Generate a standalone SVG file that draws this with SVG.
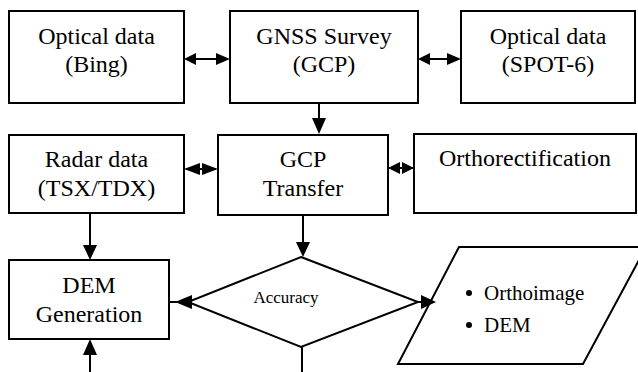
<svg xmlns="http://www.w3.org/2000/svg" width="638" height="372" viewBox="0 0 638 372">
<style>
.box{fill:#fff;stroke:#000;stroke-width:2}
.t{font-size:24px;fill:#000;text-anchor:middle}
.s{font-size:21px;fill:#000}
.a{font-size:17px;fill:#000;text-anchor:middle}
.ln{stroke:#000;stroke-width:2;fill:none}
.hd{fill:#000;stroke:none}
</style>
<rect width="638" height="372" fill="#fff"/>
<g font-family="Liberation Serif, DejaVu Serif, serif">
<g id="bing"><rect class="box" x="9" y="11" width="175" height="92"/><text class="t" x="96.5" y="44">Optical data</text><text class="t" x="96.5" y="72">(Bing)</text></g>
<g id="gnss"><rect class="box" x="230" y="11" width="188" height="92"/><text class="t" x="324" y="44">GNSS Survey</text><text class="t" x="324" y="72">(GCP)</text></g>
<g id="spot"><rect class="box" x="461" y="11" width="174" height="92"/><text class="t" x="548" y="44">Optical data</text><text class="t" x="548" y="72">(SPOT-6)</text></g>
<g id="radar"><rect class="box" x="9" y="135" width="175" height="78"/><text class="t" x="96.5" y="167">Radar data</text><text class="t" x="96.5" y="196">(TSX/TDX)</text></g>
<g id="gcp"><rect class="box" x="218" y="135" width="170" height="80"/><text class="t" x="303" y="167">GCP</text><text class="t" x="303" y="196">Transfer</text></g>
<g id="ortho"><rect class="box" x="414" y="134" width="222" height="79"/><text class="t" x="525" y="166">Orthorectification</text></g>
<g id="dem"><rect class="box" x="9" y="260" width="160" height="79"/><text class="t" x="89" y="293">DEM</text><text class="t" x="89" y="322">Generation</text></g>
<g id="accuracy"><polygon class="box" points="301,257 418,302 301,347 188,302"/><text class="a" x="286" y="303">Accuracy</text></g>
<g id="output"><polygon class="box" points="459,247 646,247 583,364 398,364"/><circle cx="469" cy="293" r="3"/><circle cx="469" cy="325" r="3"/><text class="s" x="484" y="300">Orthoimage</text><text class="s" x="484" y="332">DEM</text></g>
</g>
<g id="connectors">
<line class="ln" x1="186" y1="59" x2="228" y2="59"/><polygon class="hd" points="184,59 196,53 196,65"/><polygon class="hd" points="230,59 216,53 216,65"/>
<line class="ln" x1="420" y1="59" x2="459" y2="59"/><polygon class="hd" points="418,59 430,53 430,65"/><polygon class="hd" points="461,59 447,53 447,65"/>
<line class="ln" x1="319" y1="103" x2="319" y2="120"/><polygon class="hd" points="319,134 312,118 326,118"/>
<polygon class="hd" points="184,169 200,163 200,175"/><polygon class="hd" points="218,169 202,163 202,175"/><line class="ln" x1="186" y1="169" x2="216" y2="169"/>
<polygon class="hd" points="388,168 400,162 400,174"/><polygon class="hd" points="414,168 402,162 402,174"/><line class="ln" x1="389" y1="168" x2="413" y2="168"/>
<line class="ln" x1="90" y1="213" x2="90" y2="246"/><polygon class="hd" points="90,260 83,245 97,245"/>
<line class="ln" x1="303" y1="215" x2="303" y2="243"/><polygon class="hd" points="303,257 296,242 310,242"/>
<line class="ln" x1="188" y1="302" x2="169" y2="302"/><polygon class="hd" points="175,302 192,295 192,309"/>
<line class="ln" x1="418" y1="302" x2="424" y2="302"/><polygon class="hd" points="436,302 421,295 421,309"/>
<line class="ln" x1="302" y1="347" x2="302" y2="372"/>
<line class="ln" x1="90" y1="372" x2="90" y2="353"/><polygon class="hd" points="90,339 83,355 97,355"/>
</g>
</svg>
